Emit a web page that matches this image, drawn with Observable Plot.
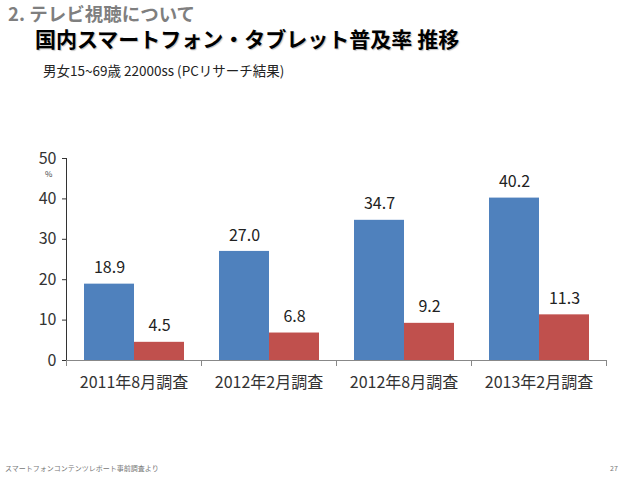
<!DOCTYPE html>
<html><head><meta charset="utf-8">
<script src="https://cdn.jsdelivr.net/npm/d3@7"></script>
<script src="https://cdn.jsdelivr.net/npm/@observablehq/plot@0.6"></script>
<style>
body{margin:0;background:#fff;font-family:"Noto Sans CJK JP","Noto Sans",sans-serif;}
#page{position:relative;width:638px;height:479px;overflow:hidden;}
.abs{position:absolute;white-space:nowrap;line-height:1;}
#sec{left:8px;top:4px;font-size:18.5px;font-weight:bold;color:#7f7f7f;}
#title{left:35px;top:28px;font-size:21px;font-weight:bold;color:#000;text-shadow:1px 1px 1px rgba(0,0,0,0.25);}
#sub{left:43px;top:64px;font-size:13.5px;color:#222;}
#foot{left:5px;top:465px;font-size:7px;color:#777;}
#pg{left:610px;top:465px;font-size:7px;color:#777;}
#pct{left:45px;top:170px;font-size:8px;color:#444;}
#chart{left:0;top:140px;}
</style></head>
<body><div id="page">
<div id="sec" class="abs">2. テレビ視聴について</div>
<div id="title" class="abs">国内スマートフォン・タブレット普及率 推移</div>
<div id="sub" class="abs">男女15~69歳 22000ss (PCリサーチ結果)</div>
<div id="chart" class="abs"></div>
<div id="pct" class="abs">%</div>
<div id="foot" class="abs">スマートフォンコンテンツレポート事前調査より</div>
<div id="pg" class="abs">27</div>
</div>
<script>
const periods = ["2011年8月調査", "2012年2月調査", "2012年8月調査", "2013年2月調査"];
const seriesNames = ["スマートフォン", "タブレット"];
const smartphone = [18.9, 27.0, 34.7, 40.2];
const tablet = [4.5, 6.8, 9.2, 11.3];
const yTicks = [0, 10, 20, 30, 40, 50];
const colors = ["#4F81BD", "#C0504D"];

const data = [];
periods.forEach((p, i) => {
  data.push({period: p, series: seriesNames[0], value: smartphone[i]});
  data.push({period: p, series: seriesNames[1], value: tablet[i]});
});

const chart = Plot.plot({
  width: 638,
  height: 260,
  marginTop: 18,
  marginBottom: 40,
  marginLeft: 66,
  marginRight: 32,
  style: {fontFamily: '"Noto Sans CJK JP", "Noto Sans", sans-serif', fontSize: "16px", color: "#333", background: "transparent"},
  fx: {domain: periods, padding: 0, label: null, tickSize: 0, tickPadding: 16},
  x: {domain: seriesNames, paddingInner: 0, paddingOuter: 0.35, axis: null},
  y: {domain: [0, 50], ticks: yTicks, tickSize: 4, tickPadding: 6, label: null, line: true},
  color: {domain: seriesNames, range: colors},
  marks: [
    Plot.barY(data, {fx: "period", x: "series", y: "value", fill: "series"}),
    Plot.text(data, {fx: "period", x: "series", y: "value", text: d => d.value.toFixed(1), dy: -16, fontSize: 16, fill: "#222"}),
    Plot.ruleY([0], {stroke: "#888"}),
    Plot.frame({anchor: "left", stroke: "#888", insetTop: 202, insetBottom: -5}),
    Plot.frame({anchor: "right", stroke: "#888", insetTop: 202, insetBottom: -5})
  ]
});
document.getElementById("chart").appendChild(chart);
</script>
</body></html>
